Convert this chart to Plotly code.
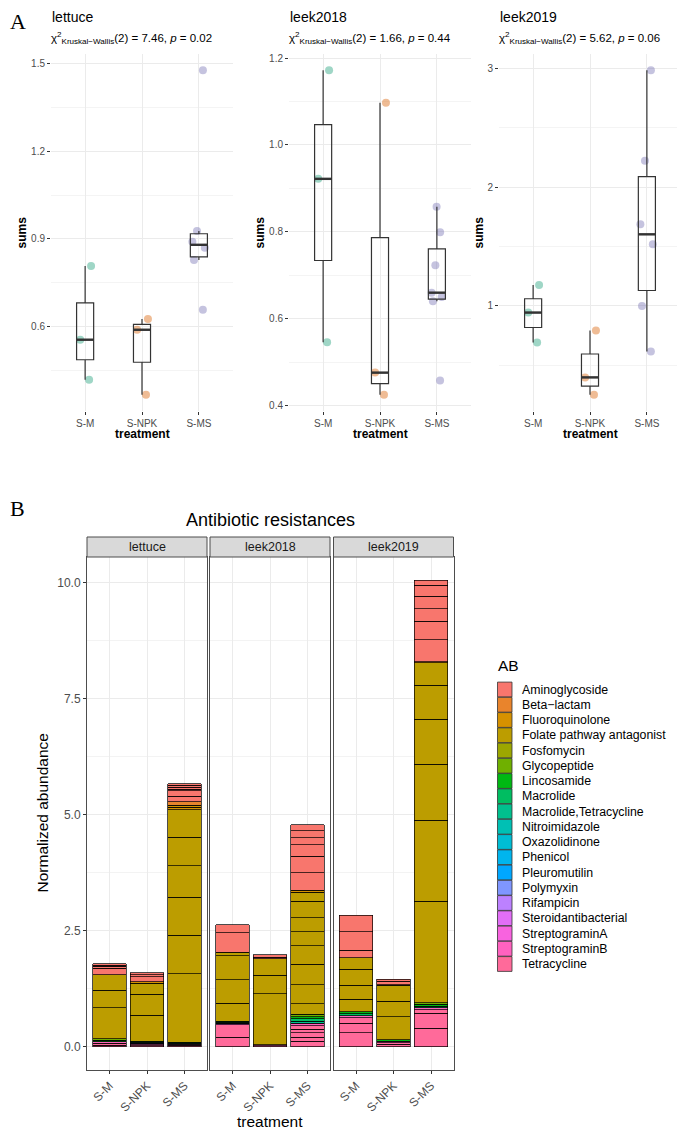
import math
import numpy as np
import plotly.graph_objects as go

W, H = 685, 1133
OFF = 8  # the html page body has an 8px margin
def px(x): return (x - OFF) / W
def py(y): return 1 - (y - OFF) / H

# ---------------- data ----------------
treatments = ["S-M", "S-NPK", "S-MS"]
sites = ["lettuce", "leek2018", "leek2019"]

# Panel A: per-sample sums
lettuce_SM = [0.808, 0.556, 0.419]
lettuce_SNPK = [0.627, 0.590, 0.368]
lettuce_SMS = [1.476, 0.927, 0.890, 0.870, 0.828, 0.658]
leek2018_SM = [1.172, 0.922, 0.546]
leek2018_SNPK = [1.097, 0.476, 0.425]
leek2018_SMS = [0.858, 0.799, 0.723, 0.660, 0.650, 0.640, 0.458]
leek2019_SM = [1.176, 0.944, 0.692]
leek2019_SNPK = [0.792, 0.398, 0.252]
leek2019_SMS = [2.983, 2.221, 1.686, 1.518, 1.000, 0.616]
kw_stat = ["7.46", "1.66", "5.62"]
kw_p = ["0.02", "0.44", "0.06"]

# Panel B: antibiotic classes (legend order)
ab_classes = ["Aminoglycoside", "Beta\u2212lactam", "Fluoroquinolone", "Folate pathway antagonist",
              "Fosfomycin", "Glycopeptide", "Lincosamide", "Macrolide", "Macrolide,Tetracycline",
              "Nitroimidazole", "Oxazolidinone", "Phenicol", "Pleuromutilin", "Polymyxin",
              "Rifampicin", "Steroidantibacterial", "StreptograminA", "StreptograminB", "Tetracycline"]
AMI, BET, FLU, FOL, FOS, GLY, LIN, MAC, MTE, NIT, OXA, PHE, PLE, POL, RIF, STE, SGA, SGB, TET = ab_classes

# segments of each stacked bar, listed from the top of the bar downwards
lettuce_SM_ab = [AMI, AMI, AMI, AMI, FOL, FOL, FOL, GLY, LIN, SGB, TET, TET]
lettuce_SM_val = [0.029, 0.029, 0.036, 0.143, 0.338, 0.373, 0.669, 0.028, 0.036, 0.036, 0.036, 0.036]
lettuce_SNPK_ab = [AMI, AMI, AMI, FLU, FOL, FOL, FOL, LIN, MAC, PHE, SGB, TET, TET]
lettuce_SNPK_val = [0.043, 0.043, 0.108, 0.030, 0.229, 0.460, 0.560, 0.020, 0.020, 0.015, 0.020, 0.020, 0.020]
lettuce_SMS_ab = [AMI, AMI, AMI, AMI, AMI, AMI, BET, FLU, FLU, FOL, FOL, FOL, FOL, FOL, FOL, LIN, MAC, SGB, TET]
lettuce_SMS_val = [0.036, 0.036, 0.043, 0.036, 0.123, 0.121, 0.073, 0.043, 0.049,
                   0.597, 0.617, 0.676, 0.818, 0.833, 1.474, 0.020, 0.018, 0.025, 0.030]
leek2018_SM_ab = [AMI, AMI, FOL, FOL, FOL, FOL, LIN, MAC, MTE, SGA, TET, TET]
leek2018_SM_val = [0.17, 0.42, 0.08, 0.52, 0.50, 0.39, 0.02, 0.02, 0.02, 0.02, 0.27, 0.20]
leek2018_SNPK_ab = [AMI, AMI, FOL, FOL, FOL, SGB, TET]
leek2018_SNPK_val = [0.05, 0.04, 0.35, 0.40, 1.10, 0.02, 0.02]
leek2018_SMS_ab = [AMI, AMI, AMI, AMI, AMI, AMI, FLU, FOL, FOL, FOL, FOL, FOL, FOL, FOL, FOL,
                   GLY, LIN, MAC, MTE, SGB, TET, TET, TET, TET, TET]
leek2018_SMS_val = [0.13, 0.15, 0.15, 0.25, 0.35, 0.38, 0.04, 0.20, 0.35, 0.30, 0.30, 0.40, 0.45, 0.40, 0.23,
                    0.05, 0.05, 0.05, 0.05, 0.05, 0.07, 0.08, 0.10, 0.08, 0.12]
leek2019_SM_ab = [AMI, AMI, AMI, FOL, FOL, FOL, FOL, LIN, MAC, SGB, TET, TET, TET]
leek2019_SM_val = [0.35, 0.40, 0.16, 0.25, 0.35, 0.30, 0.27, 0.04, 0.04, 0.05, 0.12, 0.20, 0.30]
leek2019_SNPK_ab = [AMI, AMI, FLU, FOL, FOL, FOL, LIN, SGB, TET, TET]
leek2019_SNPK_val = [0.04, 0.07, 0.02, 0.34, 0.33, 0.50, 0.03, 0.03, 0.04, 0.05]
leek2019_SMS_ab = [AMI, AMI, AMI, AMI, AMI, AMI, FLU, FOL, FOL, FOL, FOL, FOL, FOL,
                   GLY, LIN, MAC, SGB, TET, TET, TET]
leek2019_SMS_val = [0.11, 0.235, 0.265, 0.27, 0.40, 0.47, 0.03, 0.48, 0.73, 0.97, 1.213, 1.747, 2.18,
                    0.04, 0.04, 0.035, 0.035, 0.08, 0.32, 0.40]

points = {
    "lettuce": [lettuce_SM, lettuce_SNPK, lettuce_SMS],
    "leek2018": [leek2018_SM, leek2018_SNPK, leek2018_SMS],
    "leek2019": [leek2019_SM, leek2019_SNPK, leek2019_SMS],
}
bars = {
    "lettuce": [(lettuce_SM_ab, lettuce_SM_val), (lettuce_SNPK_ab, lettuce_SNPK_val), (lettuce_SMS_ab, lettuce_SMS_val)],
    "leek2018": [(leek2018_SM_ab, leek2018_SM_val), (leek2018_SNPK_ab, leek2018_SNPK_val), (leek2018_SMS_ab, leek2018_SMS_val)],
    "leek2019": [(leek2019_SM_ab, leek2019_SM_val), (leek2019_SNPK_ab, leek2019_SNPK_val), (leek2019_SMS_ab, leek2019_SMS_val)],
}

# ---------------- style ----------------
FONT = "Liberation Sans, Arial, sans-serif"
SERIF = "Liberation Serif, DejaVu Serif, serif"
dot_colors = ["#1B9E77", "#D95F02", "#7570B3"]

def hcl_hex(h, c=100.0, l=65.0):
    hr = math.radians(h)
    U, V = c * math.cos(hr), c * math.sin(hr)
    Xn, Yn, Zn = 95.047, 100.0, 108.883
    Y = Yn * ((l + 16) / 116) ** 3
    den = Xn + 15 * Yn + 3 * Zn
    un, vn = 4 * Xn / den, 9 * Yn / den
    u = U / (13 * l) + un
    v = V / (13 * l) + vn
    X = 9.0 * Y * u / (4 * v)
    Z = 3 * Y / v - X / 3 - 5 * Y
    X, Y, Z = X / 100, Y / 100, Z / 100
    r = 3.240479 * X - 1.537150 * Y - 0.498535 * Z
    g = -0.969256 * X + 1.875992 * Y + 0.041556 * Z
    b = 0.055648 * X - 0.204043 * Y + 1.057311 * Z
    def gam(t):
        t = 12.92 * t if t <= 0.0031308 else 1.055 * t ** (1 / 2.4) - 0.055
        return int(round(min(1, max(0, t)) * 255))
    return "#%02X%02X%02X" % (gam(r), gam(g), gam(b))

n_ab = len(ab_classes)
hues = np.linspace(15, 375, n_ab + 1)[:n_ab]
ab_colors = {ab: hcl_hex(h) for ab, h in zip(ab_classes, hues)}

fig = go.Figure()

# panel geometry (reference pixels)
top_x = [(51, 233), (289, 471), (499, 681)]
top_y = (54, 411)
bot_x = [(87, 207), (210, 330), (333.5, 453.5)]
bot_y = (557, 1070)

def box_stats(v):
    v = np.sort(np.asarray(v, dtype=float))
    q1, med, q3 = np.percentile(v, [25, 50, 75])
    iqr = q3 - q1
    lo = v[v >= q1 - 1.5 * iqr].min()
    hi = v[v <= q3 + 1.5 * iqr].max()
    return q1, med, q3, lo, hi

layout_axes = {}
shapes, annots = [], []
top_ticks = [(0.3, ".1f"), (0.2, ".1f"), (1.0, "d")]
BOXW = 0.3

for k, site in enumerate(sites):
    i = k + 1
    xa, ya = ("x" if i == 1 else f"x{i}"), ("y" if i == 1 else f"y{i}")
    groups = points[site]
    for j, t in enumerate(treatments):
        vals = groups[j]
        fig.add_trace(go.Box(
            x=[t] * len(vals), y=vals, boxpoints="all", jitter=0.9, pointpos=0, width=BOXW,
            fillcolor="rgba(0,0,0,0)", line=dict(width=0, color="rgba(0,0,0,0)"),
            marker=dict(color=dot_colors[j], size=8, opacity=0.42, line=dict(width=0)),
            xaxis=xa, yaxis=ya, showlegend=False, hoverinfo="y"))
    stats = [box_stats(g) for g in groups]
    fig.add_trace(go.Box(
        x=treatments, q1=[s[0] for s in stats], median=[s[1] for s in stats], q3=[s[2] for s in stats],
        lowerfence=[s[3] for s in stats], upperfence=[s[4] for s in stats],
        width=BOXW, whiskerwidth=0, fillcolor="rgba(255,255,255,0)",
        line=dict(color="#333333", width=1.2), boxpoints=False,
        xaxis=xa, yaxis=ya, showlegend=False))
    # thicker median bar (ggplot fatten)
    for j, s in enumerate(stats):
        shapes.append(dict(type="line", xref=xa, yref=ya, x0=j - BOXW / 2, x1=j + BOXW / 2,
                           y0=s[1], y1=s[1], line=dict(color="#333333", width=2.4)))
    allv = np.concatenate([np.asarray(g) for g in groups])
    lo, hi = allv.min(), allv.max()
    pad = 0.05 * (hi - lo)
    dt, fmt = top_ticks[k]
    x0, x1 = top_x[k]
    layout_axes["xaxis" if i == 1 else f"xaxis{i}"] = dict(
        domain=[px(x0), px(x1)], anchor=ya, type="category", categoryorder="array",
        categoryarray=treatments, range=[-0.6, 2.6], showgrid=True, gridcolor="#ebebeb",
        gridwidth=1, zeroline=False, showline=False, ticks="outside", ticklen=3,
        tickcolor="#333333", tickwidth=0.7, tickfont=dict(size=10, color="#4d4d4d", family=FONT))
    layout_axes["yaxis" if i == 1 else f"yaxis{i}"] = dict(
        domain=[py(top_y[1]), py(top_y[0])], anchor=xa, range=[lo - pad, hi + pad],
        tick0=0, dtick=dt, tickformat=fmt, showgrid=True, gridcolor="#ebebeb", gridwidth=1,
        zeroline=False, showline=False, ticks="outside", ticklen=3, tickcolor="#333333",
        tickwidth=0.7, tickfont=dict(size=10, color="#4d4d4d", family=FONT),
        minor=dict(dtick=dt / 2, tick0=0, showgrid=True, gridcolor="#f4f4f4", gridwidth=0.8))

# Panel B: stacked bars (segments stacked bottom-up, so walk each bar's list in reverse)
for k, site in enumerate(sites):
    i = k + 4
    xa, ya = f"x{i}", f"y{i}"
    for ab in reversed(ab_classes):
        xs, ys = [], []
        for j, t in enumerate(treatments):
            abl, vl = bars[site][j]
            for a, v in zip(reversed(abl), reversed(vl)):
                if a == ab:
                    xs.append(t)
                    ys.append(v)
        if xs:
            fig.add_trace(go.Bar(
                x=xs, y=ys, name=ab, marker=dict(color=ab_colors[ab], line=dict(color="black", width=0.7)),
                xaxis=xa, yaxis=ya, showlegend=False))
    x0, x1 = bot_x[k]
    layout_axes[f"xaxis{i}"] = dict(
        domain=[px(x0), px(x1)], anchor=ya, type="category", categoryorder="array",
        categoryarray=treatments, range=[-0.6, 2.6], showgrid=True, gridcolor="#ebebeb",
        zeroline=False, showline=True, mirror=True, linecolor="#4d4d4d", linewidth=1,
        ticks="outside", ticklen=3, tickcolor="#333333", tickangle=-45,
        tickfont=dict(size=12, color="#4d4d4d", family=FONT))
    ydict = dict(
        domain=[py(bot_y[1]), py(bot_y[0])], anchor=xa, range=[-0.5025, 10.5525],
        tick0=0, dtick=2.5, tickformat=".1f", showgrid=True, gridcolor="#ebebeb",
        zeroline=False, showline=True, mirror=True, linecolor="#4d4d4d", linewidth=1,
        minor=dict(dtick=1.25, tick0=0, showgrid=True, gridcolor="#f3f3f3", gridwidth=0.8))
    if k == 0:
        ydict.update(ticks="outside", ticklen=3, tickcolor="#333333",
                     tickfont=dict(size=12, color="#4d4d4d", family=FONT))
    else:
        ydict.update(showticklabels=False, ticks="")
    layout_axes[f"yaxis{i}"] = ydict

def ann(x, y, text, size, color="black", family=FONT, xanchor="left", angle=0, bold=False):
    if bold:
        text = f"<b>{text}</b>"
    annots.append(dict(x=px(x), y=py(y), xref="paper", yref="paper", text=text, showarrow=False,
                       xanchor=xanchor, yanchor="middle", textangle=angle, borderpad=0,
                       font=dict(size=size, color=color, family=family)))

# Panel A labels
ann(9, 22, "A", 22, family=SERIF)
sums_x = [21, 259, 478]
for k, site in enumerate(sites):
    x0, x1 = top_x[k]
    ann(x0, 17, site, 14)
    ann(x0 - 1, 38, f"\u03c7<sup>2</sup><sub>Kruskal\u2212Wallis</sub>(2) = {kw_stat[k]}, <i>p</i> = {kw_p[k]}", 11.5)
    ann(sums_x[k], (top_y[0] + top_y[1]) / 2, "sums", 12, xanchor="center", angle=-90, bold=True)
    ann((x0 + x1) / 2, 434, "treatment", 12, xanchor="center", bold=True)

# Panel B labels
ann(9, 508, "B", 22, family=SERIF)
ann((bot_x[0][0] + bot_x[2][1]) / 2, 520, "Antibiotic resistances", 18, xanchor="center")
for k, site in enumerate(sites):
    x0, x1 = bot_x[k]
    shapes.append(dict(type="rect", xref="paper", yref="paper", x0=px(x0), x1=px(x1),
                       y0=py(557), y1=py(537), fillcolor="#d9d9d9",
                       line=dict(color="#4d4d4d", width=1)))
    ann((x0 + x1) / 2, 547, site, 12.5, color="#1a1a1a", xanchor="center")
ann(42, (bot_y[0] + bot_y[1]) / 2, "Normalized abundance", 15.5, xanchor="center", angle=-90)
ann((bot_x[0][0] + bot_x[2][1]) / 2, 1121, "treatment", 15.5, xanchor="center")

# Manual legend
ann(497, 665, "AB", 15.5)
for n, ab in enumerate(ab_classes):
    yc = 689.5 + 15.25 * n
    shapes.append(dict(type="rect", xref="paper", yref="paper", x0=px(497.5), x1=px(512),
                       y0=py(yc + 7.4), y1=py(yc - 7.4), fillcolor=ab_colors[ab],
                       line=dict(color="#333333", width=0.8)))
    ann(521, yc, ab, 12.3)

fig.update_layout(
    width=W, height=H, margin=dict(l=0, r=0, t=0, b=0),
    paper_bgcolor="white", plot_bgcolor="white",
    barmode="stack", bargap=0.1, boxmode="overlay", showlegend=False,
    font=dict(family=FONT), shapes=shapes, annotations=annots, **layout_axes)

fig.write_html("out.html")
